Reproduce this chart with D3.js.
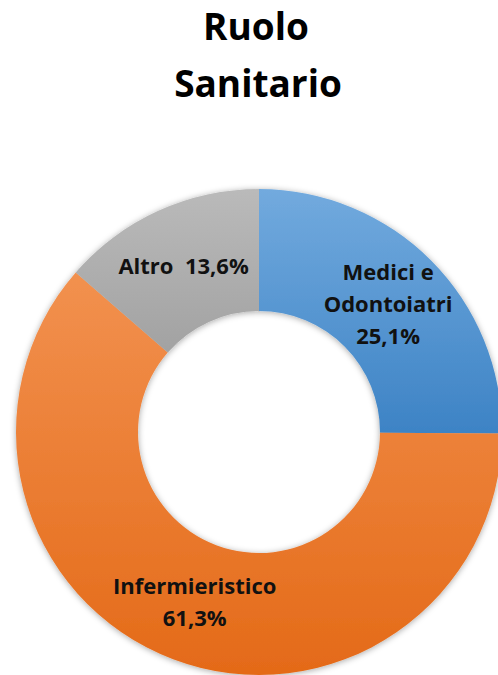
<!DOCTYPE html>
<html lang="it">
<head>
<meta charset="UTF-8">
<title>Ruolo Sanitario</title>
<script src="https://d3js.org/d3.v7.min.js"></script>
<style>
    body { margin: 0; background: #fff; }
    svg { display: block; font-family: "Open Sans", Lato, sans-serif; }
    .title { font-size: 37px; font-weight: bold; fill: #000; }
    .label { font-size: 22px; font-weight: bold; fill: #111; white-space: pre; }
</style>
</head>
<body>
<svg id="chart" width="498" height="675"></svg>
<script>
    // data
    const categories = ["Medici e Odontoiatri", "Infermieristico", "Altro"];
    const values = [25.1, 61.3, 13.6];
    const labelLines = [["Medici e", "Odontoiatri", "25,1%"], ["Infermieristico", "61,3%"], ["Altro  13,6%"]];
    const colorsTop = ["#72aade", "#f2914f", "#bababa"];
    const colorsBottom = ["#3d83c5", "#e46a18", "#a2a2a2"];

    const width = 498, height = 675;
    const cx = 259, cy = 432;
    const outerR = 243, innerR = 121;

    const svg = d3.select("#chart");
    const defs = svg.append("defs");

    const shadow = defs.append("filter").attr("id", "shadow")
        .attr("x", "-10%").attr("y", "-10%").attr("width", "120%").attr("height", "120%");
    shadow.append("feDropShadow").attr("dx", 0).attr("dy", 1)
        .attr("stdDeviation", 3).attr("flood-color", "#000").attr("flood-opacity", 0.35);

    categories.forEach((c, i) => {
        const g = defs.append("linearGradient").attr("id", "grad" + i)
            .attr("x1", 0).attr("y1", 0).attr("x2", 0).attr("y2", 1);
        g.append("stop").attr("offset", "0%").attr("stop-color", colorsTop[i]);
        g.append("stop").attr("offset", "100%").attr("stop-color", colorsBottom[i]);
    });

    svg.append("text").attr("class", "title")
        .attr("x", 256).attr("y", 40).attr("text-anchor", "middle").text("Ruolo");
    svg.append("text").attr("class", "title")
        .attr("x", 258).attr("y", 97).attr("text-anchor", "middle").text("Sanitario");

    const pie = d3.pie().sort(null).value(d => d)(values);
    const arc = d3.arc().innerRadius(innerR).outerRadius(outerR);

    const g = svg.append("g").attr("transform", `translate(${cx},${cy})`);

    g.append("g").attr("filter", "url(#shadow)")
        .selectAll("path")
        .data(pie)
        .join("path")
        .attr("d", arc)
        .attr("fill", (d, i) => `url(#grad${i})`);

    const lineH = 32;
    g.selectAll("text.label")
        .data(pie)
        .join("text")
        .attr("class", "label")
        .attr("text-anchor", "middle")
        .attr("transform", d => `translate(${arc.centroid(d)})`)
        .each(function(d, i) {
            const lines = labelLines[i];
            const t = d3.select(this);
            lines.forEach((l, j) => {
                t.append("tspan")
                    .attr("x", 0)
                    .attr("y", 8 + (j - (lines.length - 1) / 2) * lineH)
                    .text(l);
            });
        });
</script>
</body>
</html>
